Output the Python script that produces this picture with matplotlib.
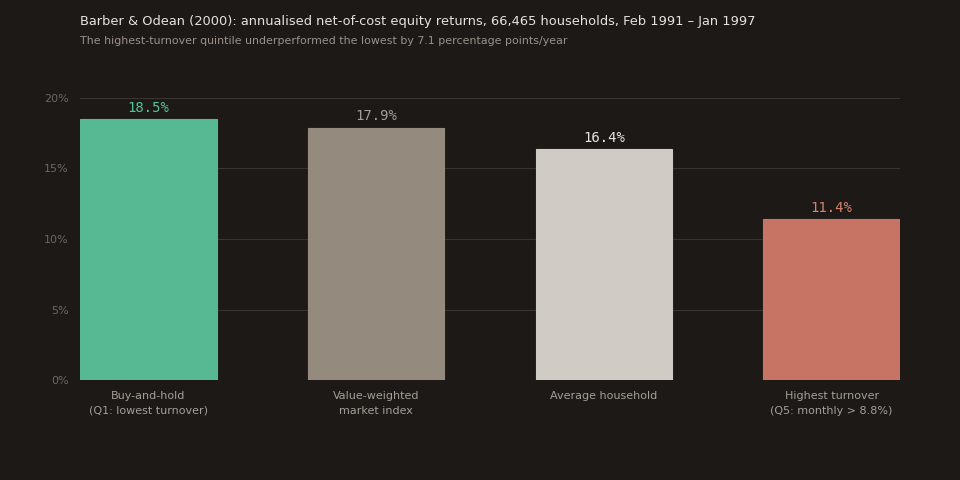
import matplotlib
matplotlib.use("Agg")
import matplotlib.pyplot as plt
from matplotlib.ticker import FuncFormatter

categories = ["Buy-and-hold\n(Q1: lowest turnover)", "Value-weighted\nmarket index",
              "Average household", "Highest turnover\n(Q5: monthly > 8.8%)"]
returns = [18.5, 17.9, 16.4, 11.4]
bar_colors = ["#56b994", "#958a7e", "#d0ccc5", "#c87464"]
label_colors = ["#55c496", "#a59d95", "#e8e4de", "#d8836f"]

bg = "#1c1917"

fig = plt.figure(figsize=(9.6, 4.8), dpi=100, facecolor=bg)
ax = fig.add_axes([80 / 960, 1 - 380 / 480, 820 / 960, 282 / 480], facecolor=bg)

x = range(len(categories))
ax.bar(x, returns, width=0.6, color=bar_colors, edgecolor=bar_colors, linewidth=0.8, zorder=2)
for i, v in enumerate(returns):
    ax.text(i, v + 0.3, f"{v:.1f}%", ha="center", va="bottom", color=label_colors[i],
            fontsize=10, family="DejaVu Sans Mono")

ax.set_xlim(-0.3, 3.3)
ax.set_ylim(0, 20)
ax.set_yticks([0, 5, 10, 15, 20])
ax.yaxis.set_major_formatter(FuncFormatter(lambda v, p: f"{v:.0f}%"))
ax.set_xticks(list(x))
ax.set_xticklabels(categories, linespacing=1.6)
ax.tick_params(axis="y", length=0, pad=8, labelsize=8, labelcolor="#6e6761")
ax.tick_params(axis="x", length=0, pad=8, labelsize=8, labelcolor="#a69e96")
ax.grid(axis="y", color="#3a3431", linewidth=0.8, zorder=0)
ax.set_axisbelow(True)
for s in ax.spines.values():
    s.set_visible(False)

fig.text(80 / 960, 1 - 22 / 480, "Barber & Odean (2000): annualised net-of-cost equity returns, 66,465 households, Feb 1991 \u2013 Jan 1997",
         ha="left", va="center", color="#e6e1da", fontsize=9.4)
fig.text(80 / 960, 1 - 40.5 / 480, "The highest-turnover quintile underperformed the lowest by 7.1 percentage points/year",
         ha="left", va="center", color="#9a918a", fontsize=7.9)

fig.savefig("out.png", dpi=100, facecolor=bg)
